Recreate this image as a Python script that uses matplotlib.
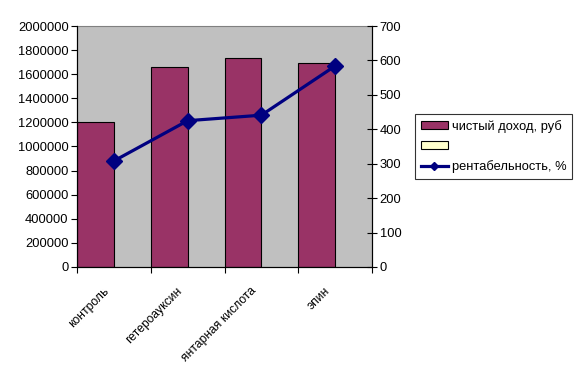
import matplotlib
matplotlib.use("Agg")
import matplotlib.pyplot as plt
import matplotlib.transforms as mtransforms
from matplotlib.patches import Patch
from matplotlib.lines import Line2D
from matplotlib.ticker import FuncFormatter
import numpy as np

plt.rcParams["font.family"] = ["Liberation Sans", "DejaVu Sans"]

categories = ["контроль", "гетероауксин", "янтарная кислота", "эпин"]
income = [1205000, 1657000, 1732000, 1690000]        # чистый доход, руб
empty_series = [None, None, None, None]               # вторая серия без значений
profitability = [308, 425, 441, 584]                  # рентабельность, %

left_ticks = np.arange(0, 2000001, 200000)
right_ticks = np.arange(0, 701, 100)

BAR_COLOR = "#993366"
LINE_COLOR = "#000080"
FS = 9.3

fig = plt.figure(figsize=(5.79, 3.83), dpi=100)
ax = fig.add_axes([0.133, 0.303, 0.5095, 0.629])
ax.set_facecolor("#C0C0C0")

x = np.arange(len(categories))
ax.bar(x - 0.5, income, width=0.5, align="edge", color=BAR_COLOR,
       edgecolor="black", linewidth=0.8, zorder=2)

ax.set_xlim(-0.5, len(categories) - 0.5)
ax.set_ylim(0, 2000000)
ax.set_yticks(left_ticks)
ax.yaxis.set_major_formatter(FuncFormatter(lambda v, p: f"{int(v)}"))
ax.tick_params(axis="y", direction="out", length=4, labelsize=FS, pad=2)

# границы категорий — засечки, подписи — по центрам
ax.set_xticks(np.arange(len(categories) + 1) - 0.5)
ax.set_xticklabels([])
ax.tick_params(axis="x", which="major", direction="out", length=4)
ax.set_xticks(x, minor=True)
ax.set_xticklabels(categories, minor=True, rotation=45, ha="right",
                   va="top", rotation_mode="anchor", fontsize=8.7)
ax.tick_params(axis="x", which="minor", length=0, pad=13)
shift = mtransforms.ScaledTranslation(-11 / 100, 0, fig.dpi_scale_trans)
for lbl in ax.get_xticklabels(minor=True):
    lbl.set_transform(lbl.get_transform() + shift)

for side in ["left", "bottom", "right"]:
    ax.spines[side].set_color("black")
ax.spines["top"].set_color("#808080")

ax2 = ax.twinx()
ax2.plot(x, profitability, color=LINE_COLOR, linewidth=2.3, marker="D",
         markersize=8, zorder=3)
ax2.set_ylim(0, 700)
ax2.set_yticks(right_ticks)
ax2.tick_params(axis="y", direction="inout", length=7, labelsize=FS, pad=2)
ax2.spines["right"].set_color("black")
ax2.spines["top"].set_visible(False)

handles = [
    Patch(facecolor=BAR_COLOR, edgecolor="black", linewidth=0.8),
    Patch(facecolor="#FFFFCC", edgecolor="black", linewidth=0.8),
    Line2D([], [], color=LINE_COLOR, linewidth=2.3, marker="D", markersize=4),
]
labels = ["чистый доход, руб", " ", "рентабельность, %"]
leg = fig.legend(handles, labels, loc="upper left",
                 bbox_to_anchor=(415 / 579, 1 - 114 / 383),
                 fontsize=FS, frameon=True, fancybox=False, edgecolor="black",
                 handlelength=2.1, handleheight=0.5, handletextpad=0.3,
                 borderpad=0.45, labelspacing=0.6, borderaxespad=0)
leg.get_frame().set_linewidth(0.8)

fig.savefig("out.png", dpi=100)
